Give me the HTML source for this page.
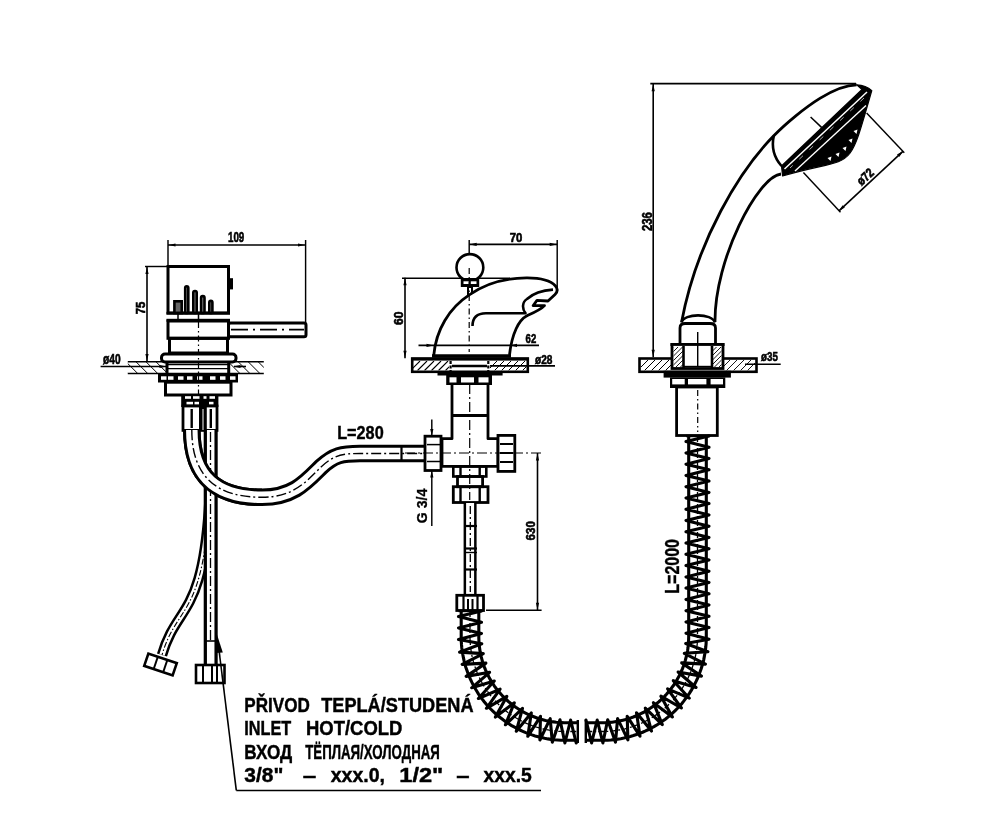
<!DOCTYPE html>
<html><head><meta charset="utf-8"><style>
html,body{margin:0;padding:0;background:#fff;}
svg{display:block;will-change:transform;}
text{font-family:"Liberation Sans",sans-serif;fill:#000;}
</style></head><body>
<svg width="999" height="836" viewBox="0 0 999 836">
<rect width="999" height="836" fill="#fff"/>
<line x1="168.0" y1="240.0" x2="168.0" y2="266.5" stroke="#000" stroke-width="1.45" />
<line x1="305.6" y1="240.0" x2="305.6" y2="323.0" stroke="#000" stroke-width="1.45" />
<line x1="168.0" y1="245.0" x2="305.6" y2="245.0" stroke="#000" stroke-width="1.6" />
<polygon points="168.5,245.0 175.5,243.4 175.5,246.6" fill="#000"/>
<polygon points="305.0,245.0 298.0,246.6 298.0,243.4" fill="#000"/>
<text x="228.0" y="242.4" font-size="14" font-weight="bold" textLength="16.3" lengthAdjust="spacingAndGlyphs" stroke="#000" stroke-width="0.6">109</text>
<line x1="145.0" y1="266.5" x2="168.0" y2="266.5" stroke="#000" stroke-width="1.45" />
<line x1="147.0" y1="266.5" x2="147.0" y2="361.7" stroke="#000" stroke-width="1.6" />
<polygon points="147.0,267.0 148.6,274.0 145.4,274.0" fill="#000"/>
<polygon points="147.0,361.0 145.4,354.0 148.6,354.0" fill="#000"/>
<text transform="translate(145.2,314.2) rotate(-90)" x="0" y="0" font-size="12.8" font-weight="bold" textLength="12.6" lengthAdjust="spacingAndGlyphs" stroke="#000" stroke-width="0.6">75</text>
<text x="103.0" y="364.4" font-size="14.2" font-weight="bold" textLength="17.6" lengthAdjust="spacingAndGlyphs" stroke="#000" stroke-width="0.6">ø40</text>
<line x1="100.6" y1="366.5" x2="166.0" y2="366.5" stroke="#000" stroke-width="1.6" />
<polygon points="166.5,366.5 159.5,368.1 159.5,364.9" fill="#000"/>
<line x1="234.0" y1="366.5" x2="246.0" y2="366.5" stroke="#000" stroke-width="1.6" />
<polygon points="233.5,366.5 240.5,364.9 240.5,368.1" fill="#000"/>
<line x1="127.8" y1="361.7" x2="263.8" y2="361.7" stroke="#000" stroke-width="1.5" />
<line x1="127.8" y1="373.6" x2="263.8" y2="373.6" stroke="#000" stroke-width="1.5" />
<clipPath id="c18"><rect x="127.8" y="361.7" width="38.2" height="11.900000000000034"/></clipPath>
<path d="M115.9,361.7L127.8,373.6M125.9,361.7L137.8,373.6M135.9,361.7L147.8,373.6M145.9,361.7L157.8,373.6M155.9,361.7L167.8,373.6M165.9,361.7L177.8,373.6M175.9,361.7L187.8,373.6" stroke="#000" stroke-width="1.0" clip-path="url(#c18)"/>
<clipPath id="c20"><rect x="230" y="361.7" width="33.80000000000001" height="11.900000000000034"/></clipPath>
<path d="M218.1,361.7L230.0,373.6M228.1,361.7L240.0,373.6M238.1,361.7L250.0,373.6M248.1,361.7L260.0,373.6M258.1,361.7L270.0,373.6M268.1,361.7L280.0,373.6" stroke="#000" stroke-width="1.0" clip-path="url(#c20)"/>
<rect x="168.0" y="266.5" width="60.5" height="46.5" rx="0" stroke="#000" stroke-width="3" fill="none" />
<rect x="228.5" y="278.2" width="4.5" height="11.2" fill="#000"/>
<rect x="185.2" y="286.2" width="3.1" height="26.8" rx="1.6" stroke="#000" stroke-width="2.6" fill="#999" />
<rect x="193.3" y="291.0" width="3.4" height="22.0" rx="1.6" stroke="#000" stroke-width="2.6" fill="#999" />
<rect x="201.1" y="296.1" width="3.4" height="16.9" rx="1.6" stroke="#000" stroke-width="2.6" fill="#999" />
<rect x="209.3" y="300.9" width="3.1" height="12.1" rx="1.6" stroke="#000" stroke-width="2.6" fill="#999" />
<rect x="174.4" y="301.3" width="7.3" height="11.7" rx="0" stroke="#000" stroke-width="2.6" fill="#666" />
<rect x="166.5" y="311.8" width="63.5" height="2.8" fill="#000"/>
<rect x="166.5" y="318.8" width="63.5" height="3.0" fill="#000"/>
<line x1="178.0" y1="314.0" x2="178.0" y2="319.0" stroke="#000" stroke-width="1.5" />
<line x1="198.5" y1="314.0" x2="198.5" y2="319.0" stroke="#000" stroke-width="1.5" />
<rect x="168.0" y="321.0" width="60.5" height="17.3" rx="0" stroke="#000" stroke-width="3" fill="none" />
<rect x="169.5" y="338.3" width="58.0" height="14.7" rx="0" stroke="#000" stroke-width="3" fill="none" />
<rect x="228.5" y="323.0" width="77.5" height="13.7" rx="2" stroke="#000" stroke-width="3" fill="none" />
<line x1="231.0" y1="329.6" x2="304.0" y2="329.6" stroke="#000" stroke-width="1.7" stroke-dasharray="17 5 2 5"/>
<rect x="161.5" y="354.0" width="74.5" height="8.0" rx="3.5" stroke="#000" stroke-width="3" fill="none" />
<line x1="167.0" y1="362.0" x2="167.0" y2="374.0" stroke="#000" stroke-width="3" />
<line x1="228.7" y1="362.0" x2="228.7" y2="374.0" stroke="#000" stroke-width="3" />
<line x1="168.0" y1="364.6" x2="228.0" y2="364.6" stroke="#000" stroke-width="1.45" />
<line x1="168.0" y1="368.6" x2="228.0" y2="368.6" stroke="#000" stroke-width="1.45" />
<rect x="158.0" y="373.5" width="80.0" height="9.0" fill="#000"/>
<rect x="161.0" y="376.3" width="5.5" height="3.5" fill="#fff"/>
<rect x="168.0" y="376.3" width="5.5" height="3.5" fill="#fff"/>
<rect x="178.0" y="376.3" width="5.5" height="3.5" fill="#fff"/>
<rect x="187.0" y="376.3" width="5.5" height="3.5" fill="#fff"/>
<rect x="197.0" y="376.3" width="5.5" height="3.5" fill="#fff"/>
<rect x="210.0" y="376.3" width="5.5" height="3.5" fill="#fff"/>
<rect x="220.0" y="376.3" width="5.5" height="3.5" fill="#fff"/>
<rect x="230.0" y="376.3" width="5.5" height="3.5" fill="#fff"/>
<rect x="165.5" y="382.2" width="65.5" height="12.8" rx="0" stroke="#000" stroke-width="3" fill="none" />
<line x1="198.5" y1="322.0" x2="198.5" y2="398.0" stroke="#000" stroke-width="1.2" stroke-dasharray="6 3 1.5 3"/>
<rect x="181.2" y="394.0" width="37.2" height="13.0" fill="#000"/>
<rect x="185.0" y="396.2" width="6.0" height="2.6" fill="#fff"/>
<rect x="193.0" y="396.2" width="6.5" height="2.6" fill="#fff"/>
<rect x="203.5" y="396.2" width="3.0" height="2.6" fill="#fff"/>
<rect x="209.5" y="396.2" width="5.5" height="2.6" fill="#fff"/>
<rect x="186.5" y="401.8" width="6.5" height="2.8" fill="#fff"/>
<rect x="194.5" y="401.8" width="4.5" height="2.8" fill="#fff"/>
<rect x="209.0" y="401.8" width="4.5" height="2.8" fill="#fff"/>
<rect x="183.0" y="406.0" width="34.0" height="24.4" rx="0" stroke="#000" stroke-width="2.8" fill="none" />
<rect x="199.0" y="406.0" width="7.8" height="24.4" fill="#000"/>
<line x1="203.0" y1="409.0" x2="203.0" y2="430.0" stroke="#fff" stroke-width="1.0" />
<line x1="191.7" y1="409.0" x2="191.7" y2="428.0" stroke="#000" stroke-width="2.4" />
<line x1="210.8" y1="409.0" x2="210.8" y2="428.0" stroke="#000" stroke-width="2.4" />
<path d="M191.8,430 C191.8,478 218,497.3 262,497.3 C293,497.3 306,482 321,467 C334,455 342,453.5 360,453.5 L425,453.5" stroke="#000" stroke-width="17.5" fill="none" stroke-linejoin="round" stroke-linecap="butt"/>
<path d="M191.8,430 C191.8,478 218,497.3 262,497.3 C293,497.3 306,482 321,467 C334,455 342,453.5 360,453.5 L425,453.5" stroke="#fff" stroke-width="11.5" fill="none" stroke-linejoin="round" stroke-linecap="butt"/>
<path d="M191.8,430 C191.8,478 218,497.3 262,497.3 C293,497.3 306,482 321,467 C334,455 342,453.5 360,453.5 L425,453.5" fill="none" stroke="#000" stroke-width="1.4" stroke-dasharray="10 3 2 3"/>
<line x1="401.5" y1="446.0" x2="401.5" y2="461.0" stroke="#000" stroke-width="2.2" />
<path d="M210,490 C204.4,620.3 177.6,601.7 162,655" stroke="#000" stroke-width="10.5" fill="none" stroke-linejoin="round" stroke-linecap="butt"/>
<path d="M210,490 C204.4,620.3 177.6,601.7 162,655" stroke="#fff" stroke-width="5.5" fill="none" stroke-linejoin="round" stroke-linecap="butt"/>
<path d="M210,490 C204.4,620.3 177.6,601.7 162,655" fill="none" stroke="#000" stroke-width="1.1" stroke-dasharray="6 2 1.5 2"/>
<path d="M210.7,430 L210.7,665" stroke="#000" stroke-width="14" fill="none"/>
<path d="M210.7,430 L210.7,665" stroke="#fff" stroke-width="7.5" fill="none"/>
<line x1="210.5" y1="432.0" x2="210.5" y2="640.0" stroke="#000" stroke-width="1.3" stroke-dasharray="10 3 2 3"/>
<line x1="205.0" y1="641.0" x2="216.0" y2="641.0" stroke="#000" stroke-width="1.6" />
<path d="M191.8,430 C191.8,478 218,497.3 262,497.3" stroke="#000" stroke-width="17.5" fill="none" stroke-linejoin="round" stroke-linecap="butt"/>
<path d="M191.8,430 C191.8,478 218,497.3 262,497.3" stroke="#fff" stroke-width="11.5" fill="none" stroke-linejoin="round" stroke-linecap="butt"/>
<path d="M191.8,430 C191.8,478 218,497.3 262,497.3" fill="none" stroke="#000" stroke-width="1.4" stroke-dasharray="10 3 2 3"/>
<g transform="translate(160.5,664.5) rotate(18.7)"><rect x="-15" y="-6.5" width="30" height="13" stroke="#000" stroke-width="2.6" fill="#fff"/><line x1="-5" y1="-6.5" x2="-5" y2="6.5" stroke="#000" stroke-width="2"/><line x1="5" y1="-6.5" x2="5" y2="6.5" stroke="#000" stroke-width="2"/></g>
<rect x="196.0" y="665.0" width="28.5" height="18.0" rx="0" stroke="#000" stroke-width="2.6" fill="#fff" />
<line x1="203.0" y1="665.0" x2="203.0" y2="683.0" stroke="#000" stroke-width="2" />
<line x1="212.0" y1="665.0" x2="212.0" y2="683.0" stroke="#000" stroke-width="2" />
<line x1="217.0" y1="665.0" x2="217.0" y2="683.0" stroke="#000" stroke-width="2" />
<line x1="219.0" y1="650.0" x2="236.3" y2="790.4" stroke="#000" stroke-width="1.6" />
<polygon points="216.8,634 215.5,653 222.8,652.5" fill="#000"/>
<line x1="236.3" y1="790.4" x2="541.0" y2="790.4" stroke="#000" stroke-width="1.5" />
<text x="244.3" y="712.2" font-size="20.5" font-weight="bold" textLength="65.5" lengthAdjust="spacingAndGlyphs" stroke="#000" stroke-width="0.45">PŘIVOD</text>
<text x="321.2" y="712.2" font-size="20.5" font-weight="bold" textLength="152.4" lengthAdjust="spacingAndGlyphs" stroke="#000" stroke-width="0.45">TEPLÁ/STUDENÁ</text>
<text x="244.3" y="735.4" font-size="20.5" font-weight="bold" textLength="47.0" lengthAdjust="spacingAndGlyphs" stroke="#000" stroke-width="0.45">INLET</text>
<text x="306.0" y="735.4" font-size="20.5" font-weight="bold" textLength="96.4" lengthAdjust="spacingAndGlyphs" stroke="#000" stroke-width="0.45">HOT/COLD</text>
<text x="244.3" y="759.2" font-size="20.5" font-weight="bold" textLength="47.9" lengthAdjust="spacingAndGlyphs" stroke="#000" stroke-width="0.45">ВХОД</text>
<text x="305.2" y="759.2" font-size="20.5" font-weight="bold" textLength="134.7" lengthAdjust="spacingAndGlyphs" stroke="#000" stroke-width="0.45">ТЁПЛАЯ/ХОЛОДНАЯ</text>
<text x="244.3" y="782.2" font-size="20.5" font-weight="bold" textLength="39.0" lengthAdjust="spacingAndGlyphs" stroke="#000" stroke-width="0.45">3/8"</text>
<text x="302.7" y="782.2" font-size="20.5" font-weight="bold" textLength="13.5" lengthAdjust="spacingAndGlyphs" stroke="#000" stroke-width="0.45">–</text>
<text x="330.7" y="782.2" font-size="20.5" font-weight="bold" textLength="54.3" lengthAdjust="spacingAndGlyphs" stroke="#000" stroke-width="0.45">xxx.0,</text>
<text x="399.3" y="782.2" font-size="20.5" font-weight="bold" textLength="44.0" lengthAdjust="spacingAndGlyphs" stroke="#000" stroke-width="0.45">1/2"</text>
<text x="456.3" y="782.2" font-size="20.5" font-weight="bold" textLength="13.3" lengthAdjust="spacingAndGlyphs" stroke="#000" stroke-width="0.45">–</text>
<text x="483.5" y="782.2" font-size="20.5" font-weight="bold" textLength="48.3" lengthAdjust="spacingAndGlyphs" stroke="#000" stroke-width="0.45">xxx.5</text>
<text x="337.2" y="438.6" font-size="18.7" font-weight="bold" textLength="46.5" lengthAdjust="spacingAndGlyphs" stroke="#000" stroke-width="0.4">L=280</text>
<line x1="469.2" y1="240.0" x2="469.2" y2="262.0" stroke="#000" stroke-width="1.45" />
<line x1="557.2" y1="240.0" x2="557.2" y2="288.0" stroke="#000" stroke-width="1.45" />
<line x1="469.2" y1="244.4" x2="557.2" y2="244.4" stroke="#000" stroke-width="1.6" />
<polygon points="469.7,244.4 476.7,242.8 476.7,246.0" fill="#000"/>
<polygon points="556.7,244.4 549.7,246.0 549.7,242.8" fill="#000"/>
<text x="509.7" y="242.2" font-size="12.6" font-weight="bold" textLength="12.6" lengthAdjust="spacingAndGlyphs" stroke="#000" stroke-width="0.6">70</text>
<line x1="402.0" y1="278.3" x2="510.0" y2="278.3" stroke="#000" stroke-width="1.45" />
<line x1="405.0" y1="277.8" x2="405.0" y2="358.2" stroke="#000" stroke-width="1.6" />
<polygon points="405.0,278.3 406.6,285.3 403.4,285.3" fill="#000"/>
<polygon points="405.0,357.7 403.4,350.7 406.6,350.7" fill="#000"/>
<text transform="translate(402.6,325.0) rotate(-90)" x="0" y="0" font-size="13.6" font-weight="bold" textLength="13.5" lengthAdjust="spacingAndGlyphs" stroke="#000" stroke-width="0.6">60</text>
<circle cx="469.9" cy="267.5" r="13.4" stroke="#000" stroke-width="2.6" fill="#fff"/>
<rect x="460.8" y="278.0" width="18.4" height="9.0" fill="#000"/>
<rect x="463.5" y="281.3" width="5.3" height="2.7" fill="#fff"/>
<rect x="470.8" y="281.3" width="5.7" height="2.7" fill="#fff"/>
<rect x="468.0" y="287.0" width="4.0" height="8.0" rx="0" stroke="#000" stroke-width="2" fill="none" />
<path d="M433.8,355 C436,330 449,308 470,294.4 C485,284 505,278 526.5,277.9 C540,277.8 551,281 555.5,286 C558,289 557.5,292 555,294.5 L548,301 L537,300.3 L533.2,305.6 L544.5,305.6 C541,309.5 533,313 526.5,316 C519,320 512,333 509.5,355" stroke="#000" stroke-width="2.8" fill="#fff" stroke-linejoin="round" />
<path d="M472.5,326 C472.5,318 476,313.2 486,313.2 L525.5,313.2 C522,309 522,302 527,299 C533,293.5 543,290.2 553,289.6" stroke="#000" stroke-width="2.6" fill="none" stroke-linejoin="round" />
<line x1="469.2" y1="268.0" x2="469.2" y2="352.0" stroke="#000" stroke-width="1.2" stroke-dasharray="6 3 1.5 3"/>
<line x1="418.5" y1="345.4" x2="539.0" y2="345.4" stroke="#000" stroke-width="1.6" />
<polygon points="433.5,345.4 426.5,347.0 426.5,343.8" fill="#000"/>
<polygon points="510.0,345.4 517.0,343.8 517.0,347.0" fill="#000"/>
<text x="525.6" y="343.0" font-size="13.2" font-weight="bold" textLength="10.6" lengthAdjust="spacingAndGlyphs" stroke="#000" stroke-width="0.6">62</text>
<line x1="432.0" y1="356.0" x2="511.0" y2="356.0" stroke="#000" stroke-width="3.4" />
<rect x="411.5" y="357.8" width="117.0" height="2.8" fill="#000"/>
<rect x="412.2" y="358.5" width="115.6" height="13.3" rx="0" stroke="#000" stroke-width="2.6" fill="none" />
<clipPath id="c127"><rect x="413" y="361" width="36" height="9.5"/></clipPath>
<path d="M403.5,370.5L413.0,361.0M410.5,370.5L420.0,361.0M417.5,370.5L427.0,361.0M424.5,370.5L434.0,361.0M431.5,370.5L441.0,361.0M438.5,370.5L448.0,361.0M445.5,370.5L455.0,361.0M452.5,370.5L462.0,361.0" stroke="#000" stroke-width="1.1" clip-path="url(#c127)"/>
<clipPath id="c129"><rect x="490" y="361" width="36.5" height="9.5"/></clipPath>
<path d="M480.5,370.5L490.0,361.0M487.5,370.5L497.0,361.0M494.5,370.5L504.0,361.0M501.5,370.5L511.0,361.0M508.5,370.5L518.0,361.0M515.5,370.5L525.0,361.0M522.5,370.5L532.0,361.0M529.5,370.5L539.0,361.0" stroke="#000" stroke-width="1.0" clip-path="url(#c129)"/>
<line x1="450.6" y1="361.0" x2="450.6" y2="371.0" stroke="#000" stroke-width="2.2" stroke-dasharray="3 1.5"/>
<line x1="488.3" y1="361.0" x2="488.3" y2="371.0" stroke="#000" stroke-width="2.2" stroke-dasharray="3 1.5"/>
<line x1="452.0" y1="366.0" x2="487.0" y2="366.0" stroke="#000" stroke-width="2.4" />
<text x="535.0" y="364.0" font-size="13.2" font-weight="bold" textLength="17.4" lengthAdjust="spacingAndGlyphs" stroke="#000" stroke-width="0.6">ø28</text>
<line x1="490.0" y1="365.9" x2="555.0" y2="365.9" stroke="#000" stroke-width="1.6" />
<rect x="437.5" y="372.5" width="65.1" height="3.0" fill="#000"/>
<rect x="446.2" y="375.0" width="45.8" height="10.0" fill="#000"/>
<rect x="449.5" y="377.3" width="7.0" height="5.2" fill="#fff"/>
<rect x="461.0" y="377.3" width="13.0" height="5.2" fill="#fff"/>
<rect x="478.5" y="377.3" width="10.0" height="5.2" fill="#fff"/>
<path d="M452,384.3 L452,438.7 L442,438.7 L442,466.4 L498,466.4 L498,438.7 L488,438.7 L488,384.3" stroke="#000" stroke-width="2.8" fill="none" stroke-linejoin="round" />
<line x1="452.0" y1="415.5" x2="488.0" y2="415.5" stroke="#000" stroke-width="2.8" />
<rect x="425.0" y="436.2" width="16.0" height="34.3" rx="0" stroke="#000" stroke-width="2.8" fill="#fff" />
<line x1="427.0" y1="444.6" x2="440.0" y2="444.6" stroke="#000" stroke-width="1.5" />
<line x1="427.0" y1="461.5" x2="440.0" y2="461.5" stroke="#000" stroke-width="1.5" />
<rect x="498.0" y="435.4" width="16.8" height="36.0" rx="0" stroke="#000" stroke-width="2.8" fill="#fff" />
<line x1="500.0" y1="444.0" x2="513.0" y2="444.0" stroke="#000" stroke-width="2" />
<line x1="500.0" y1="453.0" x2="513.0" y2="453.0" stroke="#000" stroke-width="2" />
<line x1="500.0" y1="462.0" x2="513.0" y2="462.0" stroke="#000" stroke-width="2" />
<line x1="405.0" y1="453.0" x2="541.0" y2="453.0" stroke="#000" stroke-width="1.2" stroke-dasharray="10 3 2 3"/>
<line x1="469.7" y1="384.0" x2="469.7" y2="500.0" stroke="#000" stroke-width="1.2" stroke-dasharray="10 3 2 3"/>
<line x1="431.8" y1="419.5" x2="431.8" y2="436.0" stroke="#000" stroke-width="1.45" />
<polygon points="431.8,436.0 430.2,429.0 433.4,429.0" fill="#000"/>
<line x1="431.8" y1="470.5" x2="431.8" y2="526.0" stroke="#000" stroke-width="1.45" />
<polygon points="431.8,470.5 433.4,477.5 430.2,477.5" fill="#000"/>
<text transform="translate(426.8,523.2) rotate(-90)" x="0" y="0" font-size="14.4" font-weight="bold" textLength="34.5" lengthAdjust="spacingAndGlyphs" stroke="#000" stroke-width="0.3">G 3/4</text>
<line x1="537.5" y1="453.0" x2="537.5" y2="610.2" stroke="#000" stroke-width="1.6" />
<polygon points="537.5,453.5 539.1,460.5 535.9,460.5" fill="#000"/>
<polygon points="537.5,609.7 535.9,602.7 539.1,602.7" fill="#000"/>
<line x1="486.0" y1="610.2" x2="541.6" y2="610.2" stroke="#000" stroke-width="1.45" />
<text transform="translate(535.0,540.4) rotate(-90)" x="0" y="0" font-size="13.2" font-weight="bold" textLength="19.2" lengthAdjust="spacingAndGlyphs" stroke="#000" stroke-width="0.6">630</text>
<rect x="453.3" y="466.4" width="33.0" height="10.1" rx="0" stroke="#000" stroke-width="2.6" fill="none" />
<line x1="460.5" y1="466.4" x2="460.5" y2="476.5" stroke="#000" stroke-width="2.4" />
<line x1="479.7" y1="466.4" x2="479.7" y2="476.5" stroke="#000" stroke-width="2.4" />
<rect x="457.5" y="476.5" width="25.1" height="10.2" rx="0" stroke="#000" stroke-width="2.8" fill="none" />
<rect x="453.3" y="486.7" width="34.7" height="15.8" rx="0" stroke="#000" stroke-width="2.8" fill="none" />
<line x1="460.5" y1="486.7" x2="460.5" y2="502.5" stroke="#000" stroke-width="2.4" />
<line x1="479.7" y1="486.7" x2="479.7" y2="502.5" stroke="#000" stroke-width="2.4" />
<path d="M470.1,503 L470.1,595" stroke="#000" stroke-width="13" fill="none"/>
<path d="M470.1,503 L470.1,595" stroke="#fff" stroke-width="8" fill="none"/>
<line x1="470.3" y1="506.0" x2="470.3" y2="592.0" stroke="#000" stroke-width="1.3" stroke-dasharray="8 3 2 3"/>
<line x1="464.0" y1="526.0" x2="477.0" y2="526.0" stroke="#000" stroke-width="2.2" />
<line x1="464.0" y1="548.5" x2="477.0" y2="548.5" stroke="#000" stroke-width="2.2" />
<line x1="464.0" y1="552.5" x2="477.0" y2="552.5" stroke="#000" stroke-width="1.4" />
<line x1="464.0" y1="569.5" x2="477.0" y2="569.5" stroke="#000" stroke-width="2.2" />
<rect x="456.8" y="595.3" width="26.7" height="15.2" rx="0" stroke="#000" stroke-width="2.8" fill="#fff" />
<line x1="463.5" y1="595.0" x2="463.5" y2="611.0" stroke="#000" stroke-width="2.2" />
<line x1="468.0" y1="599.0" x2="468.0" y2="611.0" stroke="#000" stroke-width="2" />
<line x1="472.5" y1="599.0" x2="472.5" y2="611.0" stroke="#000" stroke-width="2" />
<line x1="477.5" y1="595.0" x2="477.5" y2="611.0" stroke="#000" stroke-width="2.2" />
<line x1="650.3" y1="83.6" x2="856.0" y2="83.6" stroke="#000" stroke-width="1.6" />
<line x1="653.2" y1="83.6" x2="653.2" y2="357.2" stroke="#000" stroke-width="1.6" />
<polygon points="653.2,84.2 654.8,91.2 651.6,91.2" fill="#000"/>
<polygon points="653.2,356.7 651.6,349.7 654.8,349.7" fill="#000"/>
<text transform="translate(651.8,231.1) rotate(-90)" x="0" y="0" font-size="14" font-weight="bold" textLength="18.9" lengthAdjust="spacingAndGlyphs" stroke="#000" stroke-width="0.6">236</text>
<path d="M856.7,84.8 C848,85 835,89 820.3,98.1 C805,107.5 785,124 773.8,135.8 C740,170 697,240 681.6,322" stroke="#000" stroke-width="2.8" fill="none" stroke-linejoin="round" />
<path d="M781,174 C757.9,176.4 714.5,259 715,322" stroke="#000" stroke-width="2.8" fill="none" stroke-linejoin="round" />
<path d="M856.7,84.8 C863,85 868,87 871.8,90.6 C846.7,177.6 856.7,154.1 782.6,176 L781.5,166 L862,89.5 Z" stroke="#000" stroke-width="1.2" fill="#000" stroke-linejoin="round" />
<line x1="867.0" y1="92.0" x2="784.5" y2="169.0" stroke="#fff" stroke-width="1.5" />
<line x1="866.0" y1="105.5" x2="795.0" y2="171.0" stroke="#fff" stroke-width="1.4" />
<path d="M864,98 L790,168" stroke="#aaa" stroke-width="1" fill="none" stroke-dasharray="5 9"/>
<polygon points="853.5,131 857.5,129.5 856.5,134" fill="#fff"/>
<polygon points="848.5,140 852.5,138.5 851.5,143" fill="#fff"/>
<polygon points="842.5,148 846.5,146.5 845.5,151" fill="#fff"/>
<polygon points="835.5,154 839.5,152.5 838.5,157" fill="#fff"/>
<polygon points="827.5,158 831.5,156.5 830.5,161" fill="#fff"/>
<path d="M773.8,135.8 Q770,153 781.5,166" stroke="#000" stroke-width="2.6" fill="none" stroke-linejoin="round" />
<line x1="810.6" y1="117.0" x2="821.8" y2="127.6" stroke="#000" stroke-width="1.5" />
<line x1="866.6" y1="113.0" x2="904.3" y2="152.7" stroke="#000" stroke-width="1.45" />
<line x1="803.4" y1="172.4" x2="840.5" y2="212.2" stroke="#000" stroke-width="1.45" />
<line x1="902.9" y1="151.3" x2="839.0" y2="210.8" stroke="#000" stroke-width="1.6" />
<polygon points="903.2,151.0 899.2,156.9 897.0,154.6" fill="#000"/>
<polygon points="838.6,211.2 842.6,205.3 844.8,207.6" fill="#000"/>
<text transform="translate(861.5,186.0) rotate(-42.5)" x="0" y="0" font-size="12.6" font-weight="bold" textLength="18.0" lengthAdjust="spacingAndGlyphs" stroke="#000" stroke-width="0.6">ø72</text>
<path d="M681.4,322.5 C684,313 712,313 715,322.5" stroke="#000" stroke-width="2.6" fill="none" stroke-linejoin="round" />
<path d="M680,344 L680,328 Q680,323.5 685,323.5 L710,323.5 Q715.5,323.5 715.5,328 L715.5,344" stroke="#000" stroke-width="2.8" fill="none" stroke-linejoin="round" />
<rect x="639.5" y="358.5" width="117.0" height="13.3" rx="0" stroke="#000" stroke-width="2.6" fill="none" />
<clipPath id="c208"><rect x="641" y="360" width="31" height="10.5"/></clipPath>
<path d="M630.5,370.5L641.0,360.0M637.5,370.5L648.0,360.0M644.5,370.5L655.0,360.0M651.5,370.5L662.0,360.0M658.5,370.5L669.0,360.0M665.5,370.5L676.0,360.0M672.5,370.5L683.0,360.0M679.5,370.5L690.0,360.0" stroke="#000" stroke-width="1.0" clip-path="url(#c208)"/>
<clipPath id="c210"><rect x="723" y="360" width="32" height="10.5"/></clipPath>
<path d="M712.5,370.5L723.0,360.0M719.5,370.5L730.0,360.0M726.5,370.5L737.0,360.0M733.5,370.5L744.0,360.0M740.5,370.5L751.0,360.0M747.5,370.5L758.0,360.0M754.5,370.5L765.0,360.0M761.5,370.5L772.0,360.0" stroke="#000" stroke-width="0.9" clip-path="url(#c210)"/>
<rect x="670.5" y="343.0" width="54.0" height="3.0" fill="#000"/>
<rect x="672.0" y="344.5" width="51.0" height="24.0" rx="0" stroke="#000" stroke-width="2.8" fill="#fff" />
<clipPath id="c214"><rect x="673.5" y="347" width="9.5" height="20"/></clipPath>
<path d="M653.5,367.0L673.5,347.0M658.0,367.0L678.0,347.0M662.5,367.0L682.5,347.0M667.0,367.0L687.0,347.0M671.5,367.0L691.5,347.0M676.0,367.0L696.0,347.0M680.5,367.0L700.5,347.0M685.0,367.0L705.0,347.0M689.5,367.0L709.5,347.0M694.0,367.0L714.0,347.0M698.5,367.0L718.5,347.0" stroke="#000" stroke-width="0.9" clip-path="url(#c214)"/>
<clipPath id="c216"><rect x="712" y="347" width="9.5" height="20"/></clipPath>
<path d="M692.0,367.0L712.0,347.0M696.5,367.0L716.5,347.0M701.0,367.0L721.0,347.0M705.5,367.0L725.5,347.0M710.0,367.0L730.0,347.0M714.5,367.0L734.5,347.0M719.0,367.0L739.0,347.0M723.5,367.0L743.5,347.0M728.0,367.0L748.0,347.0M732.5,367.0L752.5,347.0M737.0,367.0L757.0,347.0" stroke="#000" stroke-width="0.9" clip-path="url(#c216)"/>
<line x1="683.5" y1="346.0" x2="683.5" y2="368.0" stroke="#000" stroke-width="2.6" />
<line x1="712.0" y1="346.0" x2="712.0" y2="368.0" stroke="#000" stroke-width="2.6" />
<line x1="684.0" y1="366.5" x2="711.5" y2="366.5" stroke="#000" stroke-width="1.4" />
<line x1="697.7" y1="332.0" x2="697.7" y2="366.0" stroke="#000" stroke-width="1.45" />
<rect x="663.6" y="370.8" width="67.3" height="6.8" fill="#000"/>
<rect x="670.0" y="377.4" width="55.3" height="10.6" fill="#000"/>
<rect x="672.2" y="379.0" width="12.5" height="5.4" fill="#fff"/>
<rect x="688.0" y="379.0" width="18.4" height="5.4" fill="#fff"/>
<rect x="710.6" y="379.0" width="12.4" height="5.4" fill="#fff"/>
<rect x="676.6" y="387.0" width="40.7" height="48.5" rx="0" stroke="#000" stroke-width="2.8" fill="none" />
<line x1="697.7" y1="390.0" x2="697.7" y2="432.0" stroke="#000" stroke-width="1.2" stroke-dasharray="6 3 1.5 3"/>
<text x="761.0" y="361.0" font-size="13" font-weight="bold" textLength="16.8" lengthAdjust="spacingAndGlyphs" stroke="#000" stroke-width="0.6">ø35</text>
<line x1="745.0" y1="364.2" x2="780.7" y2="364.2" stroke="#000" stroke-width="1.6" />
<text transform="translate(678.7,593.7) rotate(-90)" x="0" y="0" font-size="21" font-weight="bold" textLength="54.6" lengthAdjust="spacingAndGlyphs" stroke="#000" stroke-width="0.4">L=2000</text>
<path d="M688.7,436.0L688.7,439.0L688.7,442.0L688.7,445.0L688.7,448.0L688.7,451.0L688.7,454.0L688.7,457.0L688.7,460.0L688.7,463.0L688.7,466.0L688.7,469.0L688.7,472.0L688.7,475.0L688.7,478.0L688.7,481.0L688.7,484.0L688.7,487.0L688.7,490.0L688.7,493.0L688.7,496.0L688.7,499.0L688.7,502.0L688.7,505.0L688.7,508.0L688.7,511.0L688.7,514.0L688.7,517.0L688.7,520.0L688.7,523.0L688.7,526.0L688.7,529.0L688.7,532.0L688.7,535.0L688.7,538.0L688.7,541.0L688.7,544.0L688.7,547.0L688.7,550.0L688.7,553.0L688.7,556.0L688.7,559.0L688.7,562.0L688.7,565.0L688.7,568.0L688.7,571.0L688.7,574.0L688.7,577.0L688.7,580.0L688.7,583.0L688.7,586.0L688.7,589.0L688.7,592.0L688.7,595.0L688.7,598.0L688.7,601.0L688.7,604.0L688.7,607.0L688.7,610.0L688.7,613.0L688.7,616.0L688.7,619.0L688.7,622.0L688.7,625.0L688.7,628.0L688.7,631.0L688.7,634.0L688.7,637.0L688.6,639.7L688.5,642.4L688.3,645.1L688.0,647.8L687.6,650.5L687.1,653.2L686.5,655.9L685.8,658.5L685.1,661.1L684.3,663.7L683.4,666.3L682.4,668.8L681.3,671.3L680.2,673.8L679.0,676.3L677.7,678.6L676.4,680.9L674.9,683.3L673.4,685.5L671.8,687.7L670.2,689.9L668.4,692.0L666.7,694.1L664.8,696.1L662.9,698.0L660.9,699.9L658.9,701.7L656.8,703.4L654.7,705.1L652.5,706.7L650.2,708.3L647.9,709.8L645.6,711.2L643.2,712.5L640.8,713.7L638.3,714.9L635.8,716.0L633.3,717.0L630.8,717.9L628.2,718.8L625.6,719.6L622.9,720.2L620.3,720.8L617.6,721.4L614.9,721.8L612.2,722.2L609.5,722.4L606.8,722.6L604.1,722.7L601.2,722.7L598.2,722.7L595.2,722.7L592.2,722.7L589.2,722.7L586.2,722.7L585.8,722.7" stroke="#000" stroke-width="3.1" fill="none"/>
<path d="M706.3,436.0L706.3,439.0L706.3,442.0L706.3,445.0L706.3,448.0L706.3,451.0L706.3,454.0L706.3,457.0L706.3,460.0L706.3,463.0L706.3,466.0L706.3,469.0L706.3,472.0L706.3,475.0L706.3,478.0L706.3,481.0L706.3,484.0L706.3,487.0L706.3,490.0L706.3,493.0L706.3,496.0L706.3,499.0L706.3,502.0L706.3,505.0L706.3,508.0L706.3,511.0L706.3,514.0L706.3,517.0L706.3,520.0L706.3,523.0L706.3,526.0L706.3,529.0L706.3,532.0L706.3,535.0L706.3,538.0L706.3,541.0L706.3,544.0L706.3,547.0L706.3,550.0L706.3,553.0L706.3,556.0L706.3,559.0L706.3,562.0L706.3,565.0L706.3,568.0L706.3,571.0L706.3,574.0L706.3,577.0L706.3,580.0L706.3,583.0L706.3,586.0L706.3,589.0L706.3,592.0L706.3,595.0L706.3,598.0L706.3,601.0L706.3,604.0L706.3,607.0L706.3,610.0L706.3,613.0L706.3,616.0L706.3,619.0L706.3,622.0L706.3,625.0L706.3,628.0L706.3,631.0L706.3,634.0L706.3,637.0L706.2,640.3L706.1,643.6L705.8,646.8L705.4,650.1L704.9,653.3L704.3,656.6L703.7,659.8L702.9,663.0L702.0,666.1L701.0,669.2L699.9,672.3L698.7,675.4L697.5,678.4L696.1,681.4L694.6,684.3L693.0,687.3L691.4,690.1L689.7,692.9L687.8,695.6L685.9,698.2L683.9,700.9L681.9,703.4L679.7,705.9L677.5,708.3L675.2,710.6L672.8,712.9L670.4,715.0L667.9,717.1L665.3,719.2L662.6,721.1L659.9,723.0L657.2,724.7L654.4,726.4L651.5,728.0L648.6,729.5L645.6,730.9L642.6,732.2L639.6,733.4L636.5,734.6L633.4,735.6L630.3,736.5L627.1,737.3L623.9,738.1L620.7,738.7L617.5,739.2L614.2,739.6L610.9,740.0L607.7,740.2L604.4,740.3L601.2,740.3L598.2,740.3L595.2,740.3L592.2,740.3L589.2,740.3L586.2,740.3L585.8,740.3" stroke="#000" stroke-width="3.1" fill="none"/>
<path d="M697.5,436.0L697.5,439.0L697.5,442.0L697.5,445.0L697.5,448.0L697.5,451.0L697.5,454.0L697.5,457.0L697.5,460.0L697.5,463.0L697.5,466.0L697.5,469.0L697.5,472.0L697.5,475.0L697.5,478.0L697.5,481.0L697.5,484.0L697.5,487.0L697.5,490.0L697.5,493.0L697.5,496.0L697.5,499.0L697.5,502.0L697.5,505.0L697.5,508.0L697.5,511.0L697.5,514.0L697.5,517.0L697.5,520.0L697.5,523.0L697.5,526.0L697.5,529.0L697.5,532.0L697.5,535.0L697.5,538.0L697.5,541.0L697.5,544.0L697.5,547.0L697.5,550.0L697.5,553.0L697.5,556.0L697.5,559.0L697.5,562.0L697.5,565.0L697.5,568.0L697.5,571.0L697.5,574.0L697.5,577.0L697.5,580.0L697.5,583.0L697.5,586.0L697.5,589.0L697.5,592.0L697.5,595.0L697.5,598.0L697.5,601.0L697.5,604.0L697.5,607.0L697.5,610.0L697.5,613.0L697.5,616.0L697.5,619.0L697.5,622.0L697.5,625.0L697.5,628.0L697.5,631.0L697.5,634.0L697.5,637.0L697.4,640.0L697.3,643.0L697.0,646.0L696.7,649.0L696.2,651.9L695.7,654.9L695.1,657.8L694.4,660.7L693.5,663.6L692.6,666.5L691.7,669.3L690.6,672.1L689.4,674.9L688.2,677.6L686.8,680.3L685.4,682.9L683.9,685.5L682.3,688.1L680.6,690.6L678.9,693.0L677.1,695.4L675.2,697.7L673.2,700.0L671.2,702.2L669.0,704.3L666.9,706.4L664.6,708.4L662.3,710.3L660.0,712.1L657.6,713.9L655.1,715.6L652.6,717.2L650.0,718.8L647.4,720.2L644.7,721.6L642.0,722.9L639.2,724.1L636.5,725.2L633.6,726.3L630.8,727.2L627.9,728.0L625.0,728.8L622.1,729.5L619.1,730.0L616.2,730.5L613.2,730.9L610.2,731.2L607.2,731.4L604.2,731.5L601.2,731.5L598.2,731.5L595.2,731.5L592.2,731.5L589.2,731.5L586.2,731.5" stroke="#000" stroke-width="1.3" fill="none" stroke-dasharray="6 2 2 2"/>
<path d="M709.0,436.0L686.0,441.6L709.0,447.3L686.0,452.9L709.0,458.5L686.0,464.2L709.0,469.8L686.0,475.4L709.0,481.1L686.0,486.7L709.0,492.4L686.0,498.0L709.0,503.6L686.0,509.3L709.0,514.9L686.0,520.5L709.0,526.2L686.0,531.8L709.0,537.4L686.0,543.1L709.0,548.7L686.0,554.3L709.0,560.0L686.0,565.6L709.0,571.2L686.0,576.9L709.0,582.5L686.0,588.1L709.0,593.8L686.0,599.4L709.0,605.0L686.0,610.7L709.0,616.3L686.0,622.0L709.0,627.6L686.0,633.2L709.0,639.2L685.7,643.5L707.9,651.7L684.3,653.3L705.4,664.1L681.7,662.9L701.4,676.1L678.1,672.0L696.0,687.5L673.3,680.7L689.3,698.2L667.6,688.8L681.4,708.0L660.9,696.2L672.4,716.9L653.4,702.7L662.3,724.6L645.3,708.2L651.5,731.1L636.5,712.8L640.0,736.2L627.2,716.3L627.9,739.9L617.6,718.6L615.5,742.2L607.7,719.8L602.9,743.0L597.2,720.0L591.6,743.0L586.0,720.0" stroke="#000" stroke-width="3.1" fill="none" stroke-linejoin="round" stroke-linecap="round"/>
<line x1="686.0" y1="436.0" x2="709.0" y2="436.0" stroke="#000" stroke-width="2.4"/>
<line x1="585.8" y1="720.0" x2="585.8" y2="743.0" stroke="#000" stroke-width="2.4"/>
<path d="M461.2,611.0L461.2,614.0L461.2,617.0L461.2,620.0L461.2,623.0L461.2,626.0L461.2,629.0L461.2,632.0L461.2,635.0L461.2,638.2L461.3,641.4L461.5,644.7L461.8,648.0L462.3,651.2L462.8,654.5L463.4,657.7L464.1,660.9L464.9,664.1L465.8,667.2L466.9,670.3L468.0,673.4L469.2,676.4L470.5,679.4L471.9,682.4L473.4,685.3L475.0,688.2L476.7,691.0L478.4,693.8L480.3,696.5L482.2,699.1L484.2,701.7L486.3,704.2L488.5,706.7L490.7,709.0L493.1,711.3L495.5,713.6L497.9,715.7L500.5,717.8L503.1,719.8L505.7,721.7L508.4,723.5L511.2,725.3L514.1,726.9L516.9,728.5L519.9,730.0L522.8,731.3L525.8,732.6L528.9,733.8L532.0,734.9L535.1,735.9L538.3,736.8L541.4,737.6L544.6,738.3L547.9,738.9L551.1,739.4L554.4,739.8L557.6,740.0L561.0,740.2L564.2,740.3L567.3,740.3L570.3,740.3L573.3,740.3L576.3,740.3L577.8,740.3" stroke="#000" stroke-width="3.1" fill="none"/>
<path d="M478.8,611.0L478.8,614.0L478.8,617.0L478.8,620.0L478.8,623.0L478.8,626.0L478.8,629.0L478.8,632.0L478.8,635.0L478.8,637.8L478.9,640.5L479.1,643.3L479.3,646.0L479.7,648.7L480.1,651.4L480.6,654.0L481.2,656.7L481.9,659.3L482.6,662.0L483.5,664.5L484.4,667.1L485.4,669.6L486.5,672.1L487.7,674.6L488.9,677.0L490.2,679.4L491.6,681.7L493.1,684.0L494.6,686.3L496.2,688.5L497.9,690.6L499.7,692.7L501.5,694.8L503.3,696.7L505.3,698.7L507.3,700.5L509.3,702.3L511.4,704.0L513.6,705.7L515.8,707.3L518.1,708.8L520.4,710.2L522.7,711.6L525.1,712.9L527.5,714.1L530.0,715.3L532.5,716.3L535.1,717.3L537.6,718.2L540.2,719.1L542.8,719.8L545.5,720.5L548.1,721.0L550.8,721.5L553.5,721.9L556.2,722.3L558.9,722.5L561.6,722.6L564.3,722.7L567.3,722.7L570.3,722.7L573.3,722.7L576.3,722.7L577.8,722.7" stroke="#000" stroke-width="3.1" fill="none"/>
<path d="M470.0,611.0L470.0,614.0L470.0,617.0L470.0,620.0L470.0,623.0L470.0,626.0L470.0,629.0L470.0,632.0L470.0,635.0L470.0,638.0L470.1,641.0L470.3,644.0L470.6,647.0L471.0,650.0L471.4,652.9L472.0,655.9L472.7,658.8L473.4,661.7L474.2,664.6L475.2,667.4L476.2,670.2L477.3,673.0L478.5,675.8L479.8,678.5L481.2,681.2L482.6,683.8L484.1,686.4L485.8,688.9L487.5,691.4L489.2,693.8L491.1,696.2L493.0,698.5L495.0,700.7L497.0,702.9L499.2,705.0L501.4,707.0L503.6,709.0L505.9,710.9L508.3,712.7L510.8,714.5L513.3,716.2L515.8,717.8L518.4,719.3L521.0,720.7L523.7,722.1L526.4,723.3L529.2,724.5L532.0,725.6L534.8,726.6L537.7,727.5L540.6,728.3L543.5,729.0L546.4,729.7L549.3,730.2L552.3,730.6L555.3,731.0L558.3,731.3L561.3,731.4L564.3,731.5L567.3,731.5L570.3,731.5L573.3,731.5L576.3,731.5" stroke="#000" stroke-width="1.3" fill="none" stroke-dasharray="6 2 2 2"/>
<path d="M481.5,611.0L458.5,616.6L481.5,622.3L458.5,627.9L481.5,633.5L458.5,639.5L481.8,643.8L459.6,652.1L483.3,653.6L462.2,664.4L485.9,663.1L466.2,676.4L489.6,672.3L471.7,687.8L494.3,681.0L478.4,698.5L500.1,689.1L486.4,708.3L506.8,696.4L495.4,717.1L514.3,702.8L505.4,724.8L522.5,708.4L516.3,731.2L531.3,712.9L527.8,736.3L540.5,716.3L539.9,740.0L550.2,718.7L552.3,742.2L560.0,719.8L564.9,743.0L570.6,720.0L576.2,743.0" stroke="#000" stroke-width="3.1" fill="none" stroke-linejoin="round" stroke-linecap="round"/>
<line x1="458.5" y1="611.0" x2="481.5" y2="611.0" stroke="#000" stroke-width="2.4"/>
<line x1="577.8" y1="743.0" x2="577.8" y2="720.0" stroke="#000" stroke-width="2.4"/>
</svg></body></html>
